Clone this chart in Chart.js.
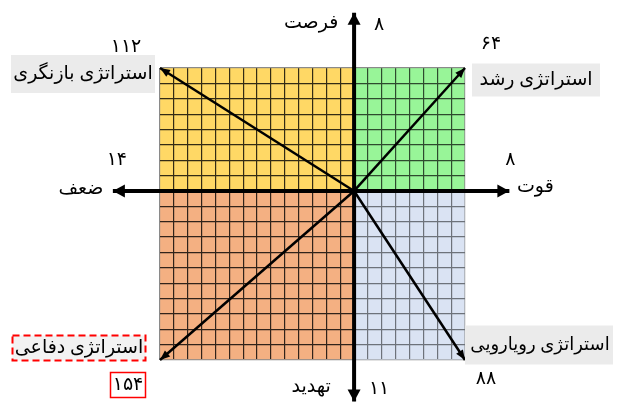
<!DOCTYPE html>
<html>
<head>
<meta charset="utf-8">
<script src="https://cdn.jsdelivr.net/npm/chart.js@4"></script>
<style>
  body { margin: 0; background: #fff; }
  #wrap { width: 621px; height: 405px; position: relative; }
</style>
</head>
<body>
<div id="wrap"><canvas id="myChart"></canvas></div>
<script>
// axis names and counts (x: weakness <-> strength, y: threat <-> opportunity)
const axisNames = ["فرصت", "تهدید", "قوت", "ضعف"];
const axisCounts = [8, 11, 8, 14];
// quadrants: WO, SO, WT, ST
const quadrantNames = ["استراتژی بازنگری", "استراتژی رشد", "استراتژی دفاعی", "استراتژی رویارویی"];
const quadrantScores = [112, 64, 154, 88];
const quadrantColors = ["#ffd966", "#99f599", "#f4b183", "#dae3f3"];
// how much of the fill sits over the grid lines (softens them)
const quadrantTint = [0.2, 0.3, 0.2, 0.5];
// how far the axis arrows run past the grid (in grid units)
const axisArrowX = [-17.4, 11.2];
const axisArrowY = [11.6, -13.7];

const xMin = -axisCounts[3], xMax = axisCounts[2];
const yMin = -axisCounts[1], yMax = axisCounts[0];

const FONT = '"Liberation Serif", "DejaVu Sans", serif';

function fa(n) {
  return String(n).replace(/\d/g, (d) => "۰۱۲۳۴۵۶۷۸۹"[d]);
}

// one grid line per unit
function unitTicks(min, max) {
  const out = [];
  for (let v = min; v <= max; v++) out.push({ value: v });
  return out;
}

// quadrant corners in the same order as the names
const corners = [[xMin, yMax], [xMax, yMax], [xMin, yMin], [xMax, yMin]];

function fillQuadrants(chart, alphas) {
  const { ctx, scales: { x, y } } = chart;
  const x0 = x.getPixelForValue(0), y0 = y.getPixelForValue(0);
  ctx.save();
  corners.forEach((c, i) => {
    const px = x.getPixelForValue(c[0]), py = y.getPixelForValue(c[1]);
    ctx.globalAlpha = alphas ? alphas[i] : 1;
    ctx.fillStyle = quadrantColors[i];
    ctx.fillRect(Math.min(x0, px), Math.min(y0, py), Math.abs(px - x0), Math.abs(py - y0));
  });
  ctx.restore();
}

const quadrantFill = {
  id: "quadrantFill",
  beforeDraw(chart) { fillQuadrants(chart); },
  beforeDatasetsDraw(chart) { fillQuadrants(chart, quadrantTint); },
};

const arrowHeads = {
  id: "arrowHeads",
  afterDatasetsDraw(chart) {
    const ctx = chart.ctx;
    chart.data.datasets.forEach((ds, i) => {
      if (!ds.arrow) return;
      const pts = chart.getDatasetMeta(i).data;
      const ends = ds.arrow.both ? [[0, 1], [pts.length - 1, pts.length - 2]] : [[pts.length - 1, pts.length - 2]];
      ends.forEach(([a, b]) => {
        const tip = pts[a], from = pts[b];
        const ang = Math.atan2(tip.y - from.y, tip.x - from.x);
        const L = ds.arrow.len, W = ds.arrow.half;
        ctx.save();
        ctx.translate(tip.x, tip.y);
        ctx.rotate(ang);
        ctx.beginPath();
        ctx.moveTo(0, 0);
        ctx.lineTo(-L, W);
        ctx.lineTo(-L, -W);
        ctx.closePath();
        ctx.fillStyle = "#000";
        ctx.fill();
        ctx.restore();
      });
    });
  },
};

function box(ctx, cx, cy, w, h, fill) {
  ctx.fillStyle = fill;
  ctx.fillRect(cx - w / 2, cy - h / 2, w, h);
}

function text(ctx, s, cx, cy, size) {
  ctx.font = size + "px " + FONT;
  ctx.fillStyle = "#000";
  ctx.textAlign = "center";
  ctx.textBaseline = "middle";
  ctx.fillText(s, cx, cy);
}

const labelsPlugin = {
  id: "labelsPlugin",
  afterDraw(chart) {
    const { ctx, scales: { x, y } } = chart;
    const P = (c) => [x.getPixelForValue(c[0]), y.getPixelForValue(c[1])];
    ctx.save();
    ctx.direction = "rtl";

    // quadrant labels
    const [tlx, tly] = P(corners[0]);
    box(ctx, tlx - 77, tly + 6, 144, 38, "#ebebeb");
    text(ctx, quadrantNames[0], tlx - 77, tly + 6, 19);
    text(ctx, fa(quadrantScores[0]), tlx - 34, tly - 21, 19);

    const [trx, try_] = P(corners[1]);
    box(ctx, trx + 71, try_ + 12, 128, 33, "#ebebeb");
    text(ctx, quadrantNames[1], trx + 71, try_ + 12, 19);
    text(ctx, fa(quadrantScores[1]), trx + 26, try_ - 24, 19);

    const [blx, bly] = P(corners[2]);
    box(ctx, blx - 81, bly - 12, 133, 25, "#f2f2f2");
    ctx.strokeStyle = "#ff0000";
    ctx.lineWidth = 2;
    ctx.setLineDash([7, 4]);
    ctx.strokeRect(blx - 81 - 66.5, bly - 12 - 12.5, 133, 25);
    ctx.setLineDash([]);
    text(ctx, quadrantNames[2], blx - 81, bly - 12, 19);
    box(ctx, blx - 32, bly + 25, 35, 25, "#fff");
    ctx.lineWidth = 1.5;
    ctx.strokeRect(blx - 32 - 17.5, bly + 25 - 12.5, 35, 25);
    text(ctx, fa(quadrantScores[2]), blx - 32, bly + 25, 19);

    const [brx, bry] = P(corners[3]);
    box(ctx, brx + 74, bry - 15, 148, 39, "#ebebeb");
    text(ctx, quadrantNames[3], brx + 75, bry - 15, 18);
    text(ctx, fa(quadrantScores[3]), brx + 21, bry + 19, 19);

    // axis labels at the arrow tips
    const [ux, uy] = P([0, axisArrowY[0]]);
    text(ctx, axisNames[0], ux - 43, uy + 10, 19);
    text(ctx, fa(axisCounts[0]), ux + 25, uy + 12, 19);
    const [dx, dy] = P([0, axisArrowY[1]]);
    text(ctx, axisNames[1], dx - 43, dy - 14, 19);
    text(ctx, fa(axisCounts[1]), dx + 25, dy - 12, 19);
    const [rx, ry] = P([axisArrowX[1], 0]);
    text(ctx, axisNames[2], rx + 26, ry - 4, 19);
    text(ctx, fa(axisCounts[2]), rx + 1, ry - 31, 19);
    const [lx, ly] = P([axisArrowX[0], 0]);
    text(ctx, axisNames[3], lx - 32, ly - 2, 19);
    text(ctx, fa(axisCounts[3]), lx + 4, ly - 31, 19);

    ctx.restore();
  },
};

const diagonals = corners.map((c) => ({
  data: [{ x: 0, y: 0 }, { x: c[0], y: c[1] }],
  showLine: true,
  borderColor: "#000",
  borderWidth: 2.5,
  pointRadius: 0,
  clip: false,
  arrow: { len: 10, half: 4 },
}));

const axes = [
  {
    data: [{ x: axisArrowX[0], y: 0 }, { x: axisArrowX[1], y: 0 }],
    showLine: true, borderColor: "#000", borderWidth: 4, pointRadius: 0, clip: false,
    arrow: { len: 12, half: 6.5, both: true },
  },
  {
    data: [{ x: 0, y: axisArrowY[0] }, { x: 0, y: axisArrowY[1] }],
    showLine: true, borderColor: "#000", borderWidth: 4, pointRadius: 0, clip: false,
    arrow: { len: 12, half: 6.5, both: true },
  },
];

function gridColor(min, max) {
  return (c) => (c.tick && (c.tick.value === min || c.tick.value === max) ? "#8a8a8a" : "#000");
}

const ctx = document.getElementById("myChart").getContext("2d");
new Chart(ctx, {
  type: "scatter",
  data: { datasets: diagonals.concat(axes) },
  options: {
    responsive: true,
    maintainAspectRatio: false,
    animation: false,
    layout: { padding: { left: 160, right: 156, top: 68, bottom: 45 } },
    plugins: { legend: { display: false }, tooltip: { enabled: false } },
    scales: {
      x: {
        type: "linear", min: xMin, max: xMax,
        afterBuildTicks: (s) => { s.ticks = unitTicks(xMin, xMax); },
        ticks: { display: false },
        grid: { color: gridColor(xMin, xMax), lineWidth: 1.2, drawTicks: false },
        border: { display: false },
      },
      y: {
        type: "linear", min: yMin, max: yMax,
        afterBuildTicks: (s) => { s.ticks = unitTicks(yMin, yMax); },
        ticks: { display: false },
        grid: { color: gridColor(yMin, yMax), lineWidth: 1.2, drawTicks: false },
        border: { display: false },
      },
    },
  },
  plugins: [quadrantFill, arrowHeads, labelsPlugin],
});
</script>
</body>
</html>
